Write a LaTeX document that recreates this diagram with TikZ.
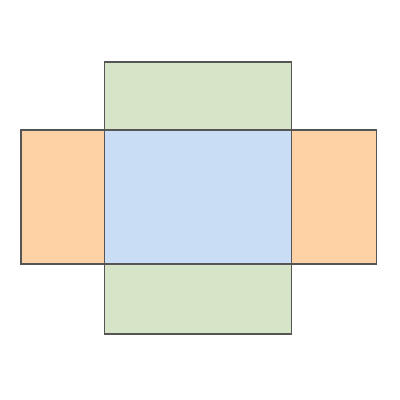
\documentclass[tikz,border=0pt]{standalone}
\definecolor{netgreen}{HTML}{D6E5C8}
\definecolor{netblue}{HTML}{C9DDF5}
\definecolor{netorange}{HTML}{FFD2A6}
\definecolor{netedge}{HTML}{555555}
\tikzset{face/.style={draw=netedge, line width=0.8pt}}
\begin{document}
\begin{tikzpicture}[x=0.025cm, y=-0.025cm]
    \useasboundingbox (0, 0) rectangle (400, 400);

    % top and bottom flaps
    \filldraw[face, fill=netgreen] (104.5, 62) rectangle (291.5, 130);
    \filldraw[face, fill=netgreen] (104.5, 264) rectangle (291.5, 334);

    % side flaps
    \filldraw[face, fill=netorange] (21, 130) rectangle (104.5, 264);
    \filldraw[face, fill=netorange] (291.5, 130) rectangle (376.5, 264);

    % base
    \filldraw[face, fill=netblue] (104.5, 130) rectangle (291.5, 264);
\end{tikzpicture}
\end{document}
